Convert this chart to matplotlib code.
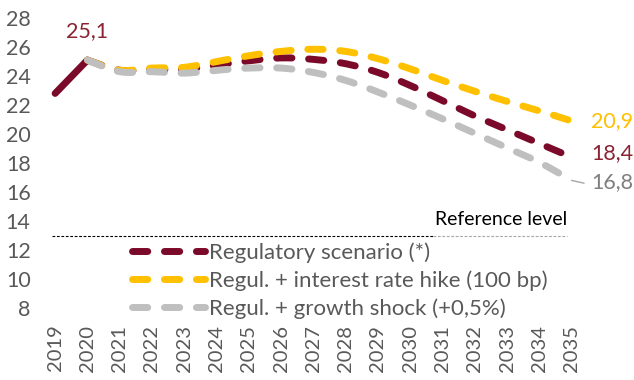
import numpy as np
import matplotlib
matplotlib.use("Agg")
import matplotlib.pyplot as plt
from matplotlib.lines import Line2D

plt.rcParams['font.family'] = ['Lato', 'DejaVu Sans']

# ---- data ----
years = list(range(2019, 2036))
hist_years = [2019, 2020]
hist_vals = [22.8, 25.1]
scen_years = list(range(2020, 2036))
regulatory = [25.1, 24.4, 24.45, 24.45, 24.75, 25.05, 25.25, 25.15, 24.85,
              24.25, 23.35, 22.3, 21.25, 20.3, 19.35, 18.4]
rate_hike = [25.1, 24.4, 24.55, 24.6, 25.0, 25.4, 25.7, 25.85, 25.7,
             25.2, 24.5, 23.7, 22.95, 22.25, 21.6, 20.9]
growth_shock = [25.1, 24.3, 24.3, 24.2, 24.4, 24.55, 24.55, 24.25, 23.7,
                22.9, 22.0, 21.05, 20.05, 19.05, 18.05, 16.8]
reference_level = 13
series_labels = ["Regulatory scenario (*)",
                 "Regul. + interest rate hike (100 bp)",
                 "Regul. + growth shock (+0,5%)"]
y_ticks = list(range(8, 29, 2))

RED = "#7B0A2A"
YELLOW = "#FFC000"
GREY = "#BFBFBF"
TXT = "#595959"


def smooth(xs, ys, n=30):
    """Bezier smoothing through the points (Catmull-Rom style control points)."""
    xs = np.asarray(xs, float)
    ys = np.asarray(ys, float)
    P = np.column_stack([xs, ys])
    Pp = np.vstack([P[0], P, P[-1]])
    out = []
    t = np.linspace(0, 1, n)[:, None]
    for i in range(len(P) - 1):
        p0, p3 = P[i], P[i + 1]
        c1 = p0 + (Pp[i + 2] - Pp[i]) / 6.0
        c2 = p3 - (Pp[i + 3] - Pp[i + 1]) / 6.0
        seg = ((1 - t) ** 3) * p0 + 3 * ((1 - t) ** 2) * t * c1 + 3 * (1 - t) * t ** 2 * c2 + t ** 3 * p3
        out.append(seg if i == 0 else seg[1:])
    arr = np.vstack(out)
    return arr[:, 0], arr[:, 1]


fig = plt.figure(figsize=(6.34, 3.80), dpi=100)
ax = fig.add_axes([0.0615, 0.1895, 0.8655, 0.763])

LW = 5
DASH = (0, (2.2, 2.4))

ax.plot(hist_years, hist_vals, color=RED, lw=LW, solid_capstyle='round', zorder=3)
for vals, col in [(regulatory, RED), (rate_hike, YELLOW), (growth_shock, GREY)]:
    sx, sy = smooth(scen_years, vals)
    ax.plot(sx, sy, color=col, lw=LW, linestyle=DASH, dash_capstyle='round', zorder=3)

# reference level
ax.axhline(reference_level, xmin=0.024, xmax=0.718, color="black", lw=0.8,
           linestyle=(0, (2.5, 1.5)), zorder=2)
ax.axhline(reference_level, xmin=0.718, xmax=0.962, color="#A6A6A6", lw=0.8,
           linestyle=(0, (2.5, 1.5)), zorder=2)
ax.text(0.962, reference_level + 0.55, "Reference level", transform=ax.get_yaxis_transform(),
        ha='right', va='bottom', fontsize=14, color="black")

# value labels
ax.annotate("25,1", (hist_years[-1], hist_vals[-1]), xytext=(0, 21), textcoords='offset points',
            ha='center', va='center', fontsize=15.5, color="#8B2232")
ax.annotate("20,9", (scen_years[-1], rate_hike[-1]), xytext=(14, 0), textcoords='offset points',
            ha='left', va='center', fontsize=15.5, color=YELLOW)
ax.annotate("18,4", (scen_years[-1], regulatory[-1]), xytext=(14, 3), textcoords='offset points',
            ha='left', va='center', fontsize=15.5, color="#8B2232")
ax.annotate("16,8", (scen_years[-1], growth_shock[-1]), xytext=(14, -1.5), textcoords='offset points',
            ha='left', va='center', fontsize=15.5, color="#7F7F7F")
ax.annotate("", xy=(scen_years[-1], growth_shock[-1]), xytext=(9, -2), textcoords='offset points',
            arrowprops=dict(arrowstyle='-', color="#A6A6A6", lw=1, shrinkA=0, shrinkB=0))

ax.set_xlim(2018.5, 2035.5)
ax.set_ylim(8, 28)
ax.set_yticks(y_ticks)
ax.set_yticklabels([str(v) for v in y_ticks])
ax.set_xticks(years)
ax.set_xticklabels([str(y) for y in years], rotation=90, va='top')
ax.tick_params(axis='y', length=0, pad=6, labelsize=15.5, labelcolor=TXT)
ax.tick_params(axis='x', length=0, pad=12, labelsize=14.5, labelcolor=TXT)
for s in ax.spines.values():
    s.set_visible(False)
for line in ax.get_lines():
    line.set_clip_on(False)

handles = [Line2D([], [], color=c, lw=LW, linestyle=DASH, dash_capstyle='round')
           for c in (RED, YELLOW, GREY)]
leg = fig.legend(handles, series_labels, loc='upper left', bbox_to_anchor=(0.208, 0.362),
                 frameon=False, fontsize=16, labelcolor=TXT, handlelength=3.3,
                 handletextpad=0.15, labelspacing=0.33, borderpad=0, borderaxespad=0)

fig.savefig("out.png", dpi=100)
